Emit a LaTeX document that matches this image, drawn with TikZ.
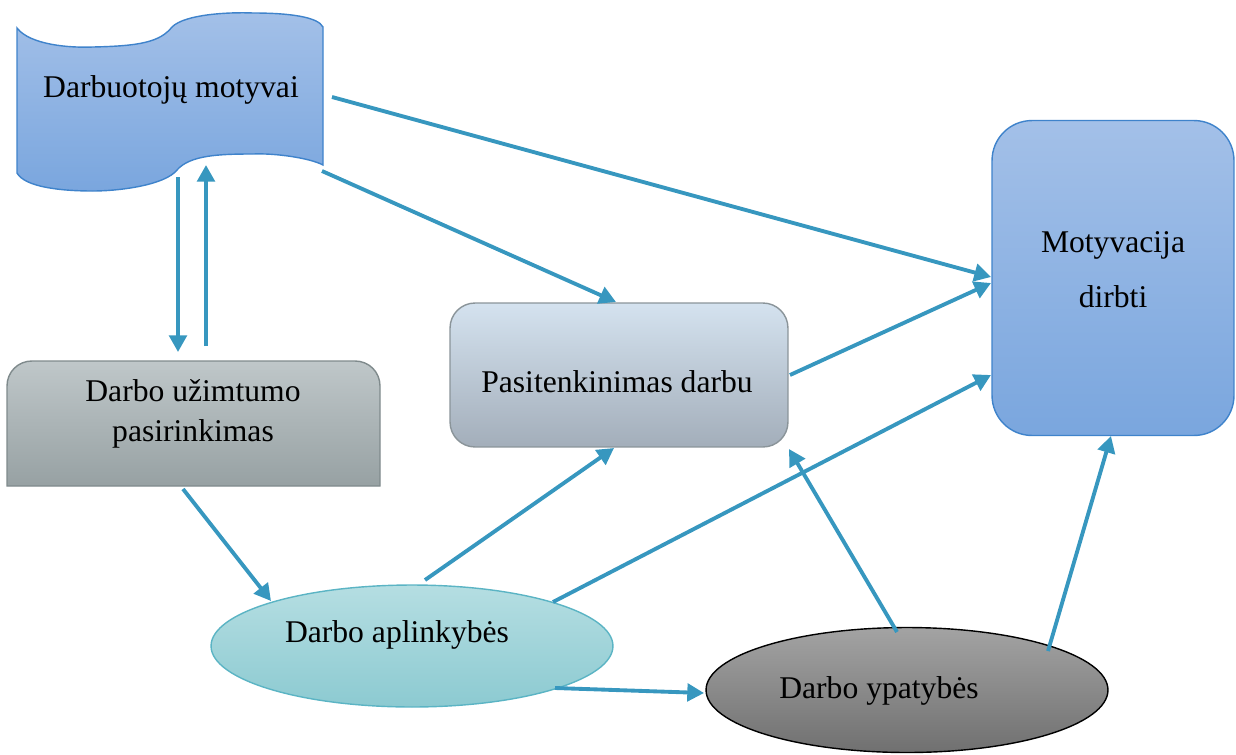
\documentclass[tikz,border=0pt]{standalone}
\usepackage{fontspec}
\setmainfont{Liberation Serif}
\usetikzlibrary{arrows.meta,shapes.geometric}
\definecolor{arr}{HTML}{3797BF}
\definecolor{blueT}{HTML}{A3C0E8}
\definecolor{blueB}{HTML}{7AA6DE}
\definecolor{blueD}{HTML}{3F83CB}
\definecolor{grayT}{HTML}{BFC7C9}
\definecolor{grayB}{HTML}{97A1A3}
\definecolor{grayD}{HTML}{7F8A8C}
\definecolor{paleT}{HTML}{D4E2EF}
\definecolor{paleB}{HTML}{A3AEBA}
\definecolor{paleD}{HTML}{8A9499}
\definecolor{tealT}{HTML}{B5DEE2}
\definecolor{tealB}{HTML}{8CCAD1}
\definecolor{tealD}{HTML}{5BB4C4}
\definecolor{darkT}{HTML}{A3A3A3}
\definecolor{darkB}{HTML}{707070}
\begin{document}
\begin{tikzpicture}[x=0.02cm,y=-0.02cm,
  conn/.style={draw=arr, line width=2.2pt, -{Triangle[length=9.5pt,width=10pt]}},
  lbl/.style={font=\fontsize{18}{24}\selectfont, inner sep=0pt, text=black},
  bluefill/.style={top color=blueT, bottom color=blueB, draw=blueD, line width=0.8pt}]
\useasboundingbox (0,0) rectangle (1236,754);

% banner (Darbuotoju motyvai)
\path[bluefill] (17,28) .. controls (30,45) and (70,48) .. (93,47)
  .. controls (140,46) and (160,42) .. (172,27)
  .. controls (185,14) and (230,12) .. (253,13)
  .. controls (290,13) and (318,17) .. (323,27) -- (323,165)
  .. controls (310,158) and (275,153) .. (253,154)
  .. controls (220,154) and (190,155) .. (177,170)
  .. controls (165,185) and (120,191) .. (93,191)
  .. controls (60,191) and (25,187) .. (17,173) -- cycle;
\node[lbl, anchor=base] (mot) at (171,97) {Darbuotojų motyvai};

% Darbo uzimtumo pasirinkimas
\path[top color=grayT, bottom color=grayB, draw=grayD, line width=0.8pt]
  (7,486) -- (7,386) .. controls (7,372) and (18,361) .. (32,361)
  -- (355,361) .. controls (369,361) and (380,372) .. (380,386)
  -- (380,486) -- cycle;
\node[lbl, align=center] (uz) at (193,414) {Darbo užimtumo\\[-1pt]pasirinkimas};

% Pasitenkinimas darbu
\node[draw=paleD, line width=0.8pt, rounded corners=0.5cm, top color=paleT, bottom color=paleB,
  minimum width=6.76cm, minimum height=2.88cm, inner sep=0pt] (pas) at (619,375) {};
\node[lbl, anchor=base] (pastxt) at (617,392) {Pasitenkinimas darbu};

% Motyvacija dirbti
\node[bluefill, rounded corners=0.8cm, minimum width=4.84cm, minimum height=6.3cm, inner sep=0pt]
  (mdb) at (1113,278) {};
\node[lbl, anchor=base] (mdb1) at (1113,252) {Motyvacija};
\node[lbl, anchor=base] (mdb2) at (1113,307) {dirbti};

% Darbo aplinkybes
\node[ellipse, top color=tealT, bottom color=tealB, draw=tealD, line width=0.8pt,
  minimum width=8.04cm, minimum height=2.44cm, inner sep=0pt] (apl) at (412,646) {};
\node[lbl, anchor=base] (apltxt) at (397,642) {Darbo aplinkybės};

% Darbo ypatybes
\node[ellipse, top color=darkT, bottom color=darkB, draw=black, line width=0.8pt,
  minimum width=8.04cm, minimum height=2.5cm, inner sep=0pt] (ypa) at (907,690) {};
\node[lbl, anchor=base] (ypatxt) at (879,698) {Darbo ypatybės};

% connector end points
\coordinate (a1s) at (332,97);   \coordinate (a1e) at (991,277);
\coordinate (a2s) at (322,171);  \coordinate (a2e) at (616,302);
\coordinate (a3s) at (790,375);  \coordinate (a3e) at (991,283);
\coordinate (a4s) at (553,602);  \coordinate (a4e) at (991,375);
\coordinate (a5s) at (425,580);  \coordinate (a5e) at (614,448);
\coordinate (a6s) at (183,489);  \coordinate (a6e) at (271,601);
\coordinate (a7s) at (555,688);  \coordinate (a7e) at (704,693);
\coordinate (a8s) at (897,632);  \coordinate (a8e) at (789,449);
\coordinate (a9s) at (1048,651); \coordinate (a9e) at (1111,436);
\coordinate (dns) at (178,177);  \coordinate (dne) at (178,352);
\coordinate (ups) at (206,346);  \coordinate (upe) at (206,165);

\draw[conn] (a1s) -- (a1e);
\draw[conn] (a2s) -- (a2e);
\draw[conn] (a3s) -- (a3e);
\draw[conn] (a4s) -- (a4e);
\draw[conn] (a5s) -- (a5e);
\draw[conn] (a6s) -- (a6e);
\draw[conn] (a7s) -- (a7e);
\draw[conn] (a8s) -- (a8e);
\draw[conn] (a9s) -- (a9e);
\draw[conn] (dns) -- (dne);
\draw[conn] (ups) -- (upe);
\end{tikzpicture}
\end{document}
